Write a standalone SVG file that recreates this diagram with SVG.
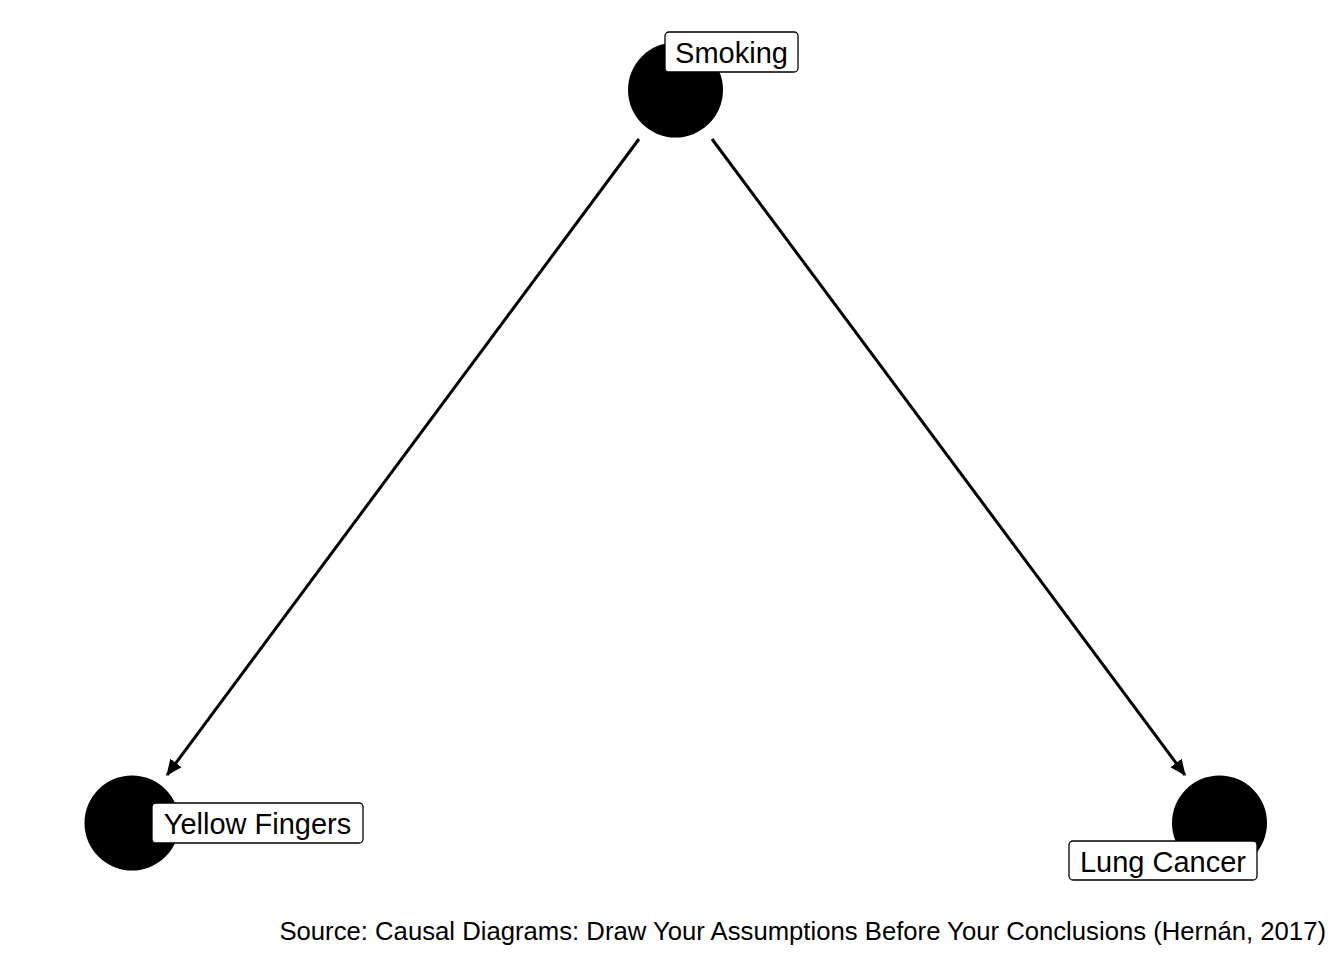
<svg xmlns="http://www.w3.org/2000/svg" width="1344" height="960" viewBox="0 0 1344 960">
<style>
.node{fill:#000}
.lbl{fill:#fff;stroke:#000;stroke-width:1.3}
.t{font-family:"Liberation Sans",Arial,sans-serif;font-size:29px;fill:#000}
.src{font-family:"Liberation Sans",Arial,sans-serif;font-size:25.7px;fill:#000}
.edge{stroke:#000;stroke-width:3;fill:none}
</style>
<defs>
<marker id="arr" viewBox="0 0 16 16" refX="15" refY="8" markerWidth="16" markerHeight="16" orient="auto" markerUnits="userSpaceOnUse">
<path d="M0,1 L16,8 L0,15 z" fill="#000"/>
</marker>
</defs>
<rect width="1344" height="960" fill="#fff"/>
<g id="connectors">
<line class="edge" x1="639" y1="139" x2="167" y2="775" marker-end="url(#arr)"/>
<line class="edge" x1="712" y1="139" x2="1185" y2="775" marker-end="url(#arr)"/>
</g>
<g id="node-smoking">
<circle class="node" cx="675.5" cy="90" r="47.5"/>
<rect class="lbl" x="665" y="32" width="133" height="40" rx="4"/>
<text class="t" x="731.5" y="62.5" text-anchor="middle">Smoking</text>
</g>
<g id="node-yellow-fingers">
<circle class="node" cx="132" cy="823" r="47.5"/>
<rect class="lbl" x="152" y="803" width="211" height="40" rx="4"/>
<text class="t" x="257.5" y="833.5" text-anchor="middle">Yellow Fingers</text>
</g>
<g id="node-lung-cancer">
<circle class="node" cx="1219.5" cy="823" r="47.5"/>
<rect class="lbl" x="1069" y="841" width="188" height="39" rx="4"/>
<text class="t" x="1163" y="871.5" text-anchor="middle">Lung Cancer</text>
</g>
<text class="src" x="1326" y="940" text-anchor="end">Source: Causal Diagrams: Draw Your Assumptions Before Your Conclusions (Hernán, 2017)</text>
</svg>
